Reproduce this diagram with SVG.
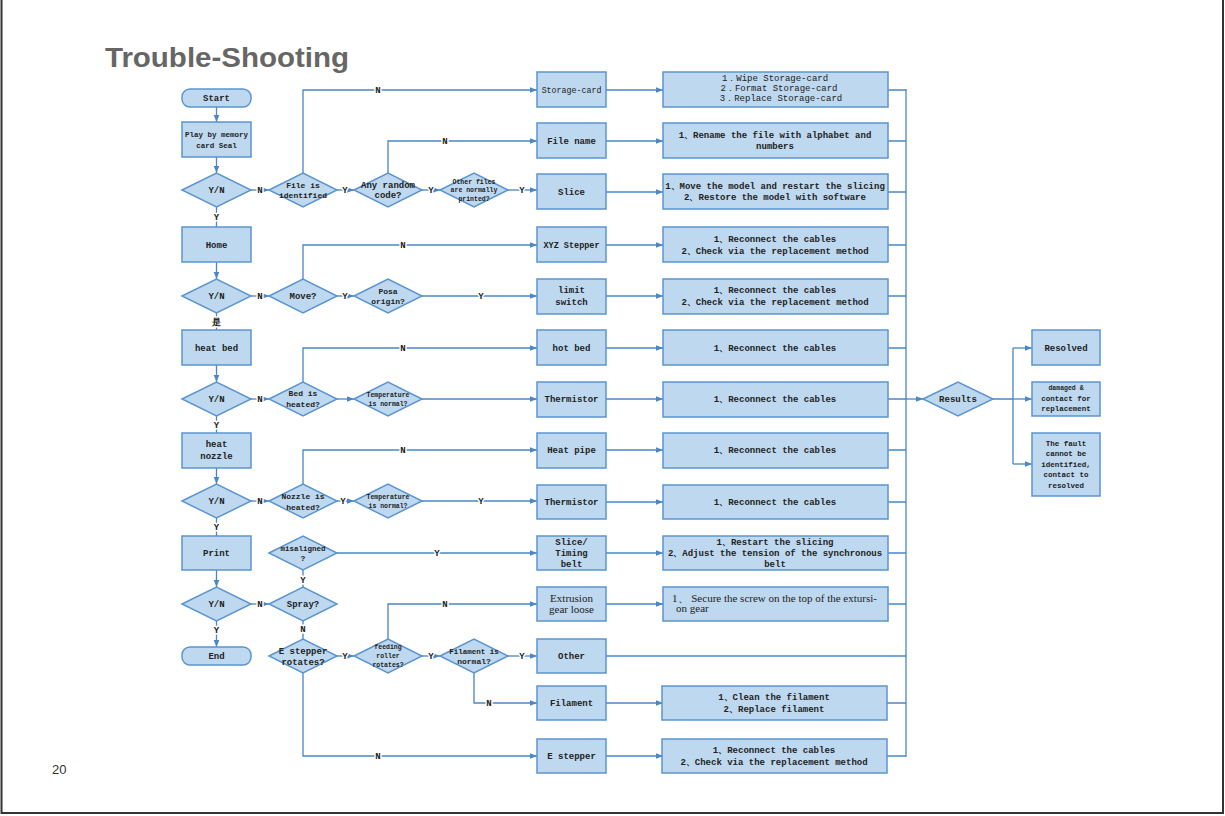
<svg xmlns="http://www.w3.org/2000/svg" width="1225" height="816" viewBox="0 0 1225 816">
<defs>
<marker id="ar" viewBox="0 0 10 10" refX="10" refY="5" markerWidth="7" markerHeight="7" markerUnits="userSpaceOnUse" orient="auto">
<path d="M0,1 L10,5 L0,9 Z" fill="#4a86c8"/>
</marker>
<style>
.box{fill:#bed8ef;stroke:#5b95d0;stroke-width:1.5}
.dm{fill:#bed8ef;stroke:#5b95d0;stroke-width:1.5}
.ln{fill:none;stroke:#4a86c8;stroke-width:1.3}
.ar{marker-end:url(#ar)}
.t{font-family:"Liberation Mono","DejaVu Sans Mono",monospace;font-size:9px;fill:#222;text-anchor:middle;font-weight:bold}
.s{font-size:8px}
.xs{font-size:6.5px}
.sf{font-family:"Liberation Serif","DejaVu Serif",serif;font-size:11px;font-weight:normal}
.st{text-anchor:start}
.lb{font-family:"Liberation Mono","DejaVu Sans Mono",monospace;font-size:9px;font-weight:bold;fill:#222;text-anchor:middle;stroke:#fff;stroke-width:3;paint-order:stroke}
</style>
</defs>
<rect x="0" y="0" width="1225" height="816" fill="#fff"/>
<g id="page" fill="none" stroke="#333" stroke-width="2">
<path d="M1.5,0 V813 H1223 V0"/>
</g>
<text x="105" y="67" font-family="Liberation Sans, Arial, sans-serif" font-size="28" font-weight="bold" fill="#666" textLength="244" lengthAdjust="spacingAndGlyphs">Trouble-Shooting</text>
<text x="52" y="774" font-family="Liberation Sans, Arial, sans-serif" font-size="13" fill="#333">20</text>

<g id="connectors">
<path class="ln ar" d="M216.5,107 V122"/>
<path class="ln ar" d="M216.5,157 V173"/>
<path class="ln" d="M216.5,207 V227"/>
<path class="ln ar" d="M216.5,262 V279"/>
<path class="ln" d="M216.5,313 V330"/>
<path class="ln ar" d="M216.5,365 V382"/>
<path class="ln" d="M216.5,416 V433"/>
<path class="ln ar" d="M216.5,468 V484"/>
<path class="ln" d="M216.5,518 V536"/>
<path class="ln ar" d="M216.5,570 V587"/>
<path class="ln ar" d="M216.5,621 V647"/>
<path class="ln ar" d="M251,190 H269"/>
<path class="ln ar" d="M251,296 H269"/>
<path class="ln ar" d="M251,399 H269"/>
<path class="ln ar" d="M251,501 H269"/>
<path class="ln ar" d="M251,604 H269"/>
<path class="ln ar" d="M303,173 V90 H537"/>
<path class="ln ar" d="M337,190 H354"/>
<path class="ln ar" d="M388,173 V141 H537"/>
<path class="ln ar" d="M422,190 H440"/>
<path class="ln ar" d="M508,190 H537"/>
<path class="ln ar" d="M303,279 V245 H537"/>
<path class="ln ar" d="M337,296 H354"/>
<path class="ln ar" d="M422,296 H537"/>
<path class="ln ar" d="M303,382 V348 H537"/>
<path class="ln ar" d="M337,399 H354"/>
<path class="ln ar" d="M422,399 H537"/>
<path class="ln ar" d="M303,484 V450 H537"/>
<path class="ln ar" d="M337,501 H354"/>
<path class="ln ar" d="M422,501 H537"/>
<path class="ln" d="M303,587 V570"/>
<path class="ln ar" d="M337,553 H537"/>
<path class="ln" d="M303,621 V639"/>
<path class="ln ar" d="M337,656 H354"/>
<path class="ln ar" d="M388,639 V604 H537"/>
<path class="ln ar" d="M422,656 H440"/>
<path class="ln ar" d="M508,656 H537"/>
<path class="ln ar" d="M474,673 V703 H537"/>
<path class="ln ar" d="M303,673 V756 H537"/>
<path class="ln ar" d="M606,90 H663"/>
<path class="ln ar" d="M606,141 H663"/>
<path class="ln ar" d="M606,192 H663"/>
<path class="ln ar" d="M606,245 H663"/>
<path class="ln ar" d="M606,296 H663"/>
<path class="ln ar" d="M606,348 H663"/>
<path class="ln ar" d="M606,399 H663"/>
<path class="ln ar" d="M606,450 H663"/>
<path class="ln ar" d="M606,502 H663"/>
<path class="ln ar" d="M606,553 H663"/>
<path class="ln ar" d="M606,604 H663"/>
<path class="ln ar" d="M606,703 H663"/>
<path class="ln ar" d="M606,756 H663"/>
<path class="ln" d="M606,656 H906"/>
<path class="ln" d="M888,90 H906 M888,141 H906 M888,192 H906 M888,245 H906 M888,296 H906 M888,348 H906 M888,399 H906 M888,450 H906 M888,502 H906 M888,553 H906 M888,604 H906 M887,703 H906 M887,756 H906"/>
<path class="ln" d="M906,89 V757"/>
<path class="ln ar" d="M906,399 H923"/>
<path class="ln" d="M993,399 H1013 M1013,348 V464"/>
<path class="ln ar" d="M1013,348 H1032"/>
<path class="ln ar" d="M1013,399 H1032"/>
<path class="ln ar" d="M1013,464 H1032"/>
<text class="lb" x="216.5" y="220">Y</text>
<text class="lb" x="216.5" y="325" font-family="Noto Sans CJK SC, sans-serif">是</text>
<text class="lb" x="216.5" y="428">Y</text>
<text class="lb" x="216.5" y="530">Y</text>
<text class="lb" x="216.5" y="633">Y</text>
<text class="lb" x="260" y="193">N</text>
<text class="lb" x="260" y="299">N</text>
<text class="lb" x="260" y="402">N</text>
<text class="lb" x="260" y="504">N</text>
<text class="lb" x="260" y="607">N</text>
<text class="lb" x="378" y="93">N</text>
<text class="lb" x="345" y="193">Y</text>
<text class="lb" x="445" y="144">N</text>
<text class="lb" x="431" y="193">Y</text>
<text class="lb" x="522" y="193">Y</text>
<text class="lb" x="403" y="248">N</text>
<text class="lb" x="345" y="299">Y</text>
<text class="lb" x="481" y="299">Y</text>
<text class="lb" x="403" y="351">N</text>
<text class="lb" x="403" y="453">N</text>
<text class="lb" x="343" y="504">Y</text>
<text class="lb" x="481" y="504">Y</text>
<text class="lb" x="437" y="556">Y</text>
<text class="lb" x="303" y="583">Y</text>
<text class="lb" x="303" y="632">N</text>
<text class="lb" x="345" y="659">Y</text>
<text class="lb" x="445" y="607">N</text>
<text class="lb" x="431" y="659">Y</text>
<text class="lb" x="522" y="659">Y</text>
<text class="lb" x="489" y="706">N</text>
<text class="lb" x="378" y="759">N</text>
</g>

<g id="start"><rect class="box" x="182" y="89" width="69" height="18" rx="8"/><text class="t" x="216.5" y="101">Start</text></g>
<g id="play"><rect class="box" x="182" y="122" width="69" height="35"/><text class="t s" x="216.5" y="137" style="font-size:7.5px">Play by memory</text><text class="t s" x="216.5" y="148" style="font-size:7.5px">card Seal</text></g>
<g id="yn1"><polygon class="dm" points="182,190 216.5,173 251,190 216.5,207"/><text class="t" x="216.5" y="193">Y/N</text></g>
<g id="home"><rect class="box" x="182" y="227" width="69" height="35"/><text class="t" x="216.5" y="248">Home</text></g>
<g id="yn2"><polygon class="dm" points="182,296 216.5,279 251,296 216.5,313"/><text class="t" x="216.5" y="299">Y/N</text></g>
<g id="heatbed"><rect class="box" x="182" y="330" width="69" height="35"/><text class="t" x="216.5" y="351">heat bed</text></g>
<g id="yn3"><polygon class="dm" points="182,399 216.5,382 251,399 216.5,416"/><text class="t" x="216.5" y="402">Y/N</text></g>
<g id="heatnozzle"><rect class="box" x="182" y="433" width="69" height="35"/><text class="t" x="216.5" y="447">heat</text><text class="t" x="216.5" y="459">nozzle</text></g>
<g id="yn4"><polygon class="dm" points="182,501 216.5,484 251,501 216.5,518"/><text class="t" x="216.5" y="504">Y/N</text></g>
<g id="print"><rect class="box" x="182" y="536" width="69" height="34"/><text class="t" x="216.5" y="556">Print</text></g>
<g id="yn5"><polygon class="dm" points="182,604 216.5,587 251,604 216.5,621"/><text class="t" x="216.5" y="607">Y/N</text></g>
<g id="end"><rect class="box" x="182" y="647" width="69" height="18" rx="8"/><text class="t" x="216.5" y="659">End</text></g>

<g id="fileid"><polygon class="dm" points="269,190 303,173 337,190 303,207"/><text class="t s" x="303" y="188">File is</text><text class="t s" x="303" y="198">identified</text></g>
<g id="random"><polygon class="dm" points="354,190 388,173 422,190 388,207"/><text class="t" x="388" y="188">Any random</text><text class="t" x="388" y="198">code?</text></g>
<g id="otherfiles"><polygon class="dm" points="440,190 474,173 508,190 474,207"/><text class="t xs" x="474" y="184">Other files</text><text class="t xs" x="474" y="192">are normally</text><text class="t xs" x="474" y="201">printed?</text></g>
<g id="move"><polygon class="dm" points="269,296 303,279 337,296 303,313"/><text class="t" x="303" y="299">Move?</text></g>
<g id="posa"><polygon class="dm" points="354,296 388,279 422,296 388,313"/><text class="t s" x="388" y="294">Posa</text><text class="t s" x="388" y="304">origin?</text></g>
<g id="bedheated"><polygon class="dm" points="269,399 303,382 337,399 303,416"/><text class="t s" x="303" y="396">Bed is</text><text class="t s" x="303" y="407">heated?</text></g>
<g id="temp1"><polygon class="dm" points="354,399 388,382 422,399 388,416"/><text class="t xs" x="388" y="397">Temperature</text><text class="t xs" x="388" y="406">is normal?</text></g>
<g id="nozzleheated"><polygon class="dm" points="269,501 303,484 337,501 303,518"/><text class="t s" x="303" y="499">Nozzle is</text><text class="t s" x="303" y="510">heated?</text></g>
<g id="temp2"><polygon class="dm" points="354,501 388,484 422,501 388,518"/><text class="t xs" x="388" y="499">Temperature</text><text class="t xs" x="388" y="508">is normal?</text></g>
<g id="misaligned"><polygon class="dm" points="269,553 303,536 337,553 303,570"/><text class="t s" x="303" y="551" style="font-size:7.5px">misaligned</text><text class="t s" x="303" y="561">?</text></g>
<g id="spray"><polygon class="dm" points="269,604 303,587 337,604 303,621"/><text class="t" x="303" y="607">Spray?</text></g>
<g id="estep"><polygon class="dm" points="269,656 303,639 337,656 303,673"/><text class="t" x="303" y="654">E stepper</text><text class="t" x="303" y="665">rotates?</text></g>
<g id="feeding"><polygon class="dm" points="354,656 388,639 422,656 388,673"/><text class="t xs" x="388" y="649">feeding</text><text class="t xs" x="388" y="658">roller</text><text class="t xs" x="388" y="667">rotates?</text></g>
<g id="filnormal"><polygon class="dm" points="440,656 474,639 508,656 474,673"/><text class="t s" x="474" y="654" style="font-size:7.5px">Filament is</text><text class="t s" x="474" y="664">normal?</text></g>

<g id="c_storage"><rect class="box" x="537" y="72" width="69" height="35"/><text class="t" x="571.5" y="93" style="font-size:8.3px;font-weight:normal">Storage-card</text></g>
<g id="c_filename"><rect class="box" x="537" y="123" width="69" height="35"/><text class="t" x="571.5" y="144">File name</text></g>
<g id="c_slice"><rect class="box" x="537" y="174" width="69" height="35"/><text class="t" x="571.5" y="195">Slice</text></g>
<g id="c_xyz"><rect class="box" x="537" y="227" width="69" height="35"/><text class="t" x="571.5" y="248" style="font-size:8.5px">XYZ Stepper</text></g>
<g id="c_limit"><rect class="box" x="537" y="279" width="69" height="35"/><text class="t" x="571.5" y="293">limit</text><text class="t" x="571.5" y="305">switch</text></g>
<g id="c_hotbed"><rect class="box" x="537" y="330" width="69" height="35"/><text class="t" x="571.5" y="351">hot bed</text></g>
<g id="c_therm1"><rect class="box" x="537" y="382" width="69" height="35"/><text class="t" x="571.5" y="402">Thermistor</text></g>
<g id="c_heatpipe"><rect class="box" x="537" y="433" width="69" height="35"/><text class="t" x="571.5" y="453">Heat pipe</text></g>
<g id="c_therm2"><rect class="box" x="537" y="485" width="69" height="34"/><text class="t" x="571.5" y="505">Thermistor</text></g>
<g id="c_slicebelt"><rect class="box" x="537" y="536" width="69" height="34"/><text class="t" x="571.5" y="545">Slice/</text><text class="t" x="571.5" y="556">Timing</text><text class="t" x="571.5" y="567">belt</text></g>
<g id="c_extrusion"><rect class="box" x="537" y="587" width="69" height="34"/><text class="t sf" x="571.5" y="602">Extrusion</text><text class="t sf" x="571.5" y="613">gear loose</text></g>
<g id="c_other"><rect class="box" x="537" y="639" width="69" height="34"/><text class="t" x="571.5" y="659">Other</text></g>
<g id="c_filament"><rect class="box" x="537" y="686" width="69" height="34"/><text class="t" x="571.5" y="706">Filament</text></g>
<g id="c_estepper"><rect class="box" x="537" y="739" width="69" height="34"/><text class="t" x="571.5" y="759">E stepper</text></g>

<g id="s_storage"><rect class="box" x="663" y="72" width="225" height="35"/><text class="t" x="775" y="81" style="font-weight:normal">1．Wipe Storage-card</text><text class="t" x="779" y="91" style="font-weight:normal">2．Format Storage-card</text><text class="t" x="781" y="101" style="font-weight:normal">3．Replace Storage-card</text></g>
<g id="s_filename"><rect class="box" x="663" y="123" width="225" height="35"/><text class="t" x="775" y="138">1、Rename the file with alphabet and</text><text class="t" x="775" y="149">numbers</text></g>
<g id="s_slice"><rect class="box" x="663" y="174" width="225" height="35"/><text class="t" x="775" y="189">1、Move the model and restart the slicing</text><text class="t" x="775" y="200">2、Restore the model with software</text></g>
<g id="s_xyz"><rect class="box" x="663" y="227" width="225" height="35"/><text class="t" x="775" y="242">1、Reconnect the cables</text><text class="t" x="775" y="254">2、Check via the replacement method</text></g>
<g id="s_limit"><rect class="box" x="663" y="279" width="225" height="35"/><text class="t" x="775" y="293">1、Reconnect the cables</text><text class="t" x="775" y="305">2、Check via the replacement method</text></g>
<g id="s_hotbed"><rect class="box" x="663" y="330" width="225" height="35"/><text class="t" x="775" y="351">1、Reconnect the cables</text></g>
<g id="s_therm1"><rect class="box" x="663" y="382" width="225" height="35"/><text class="t" x="775" y="402">1、Reconnect the cables</text></g>
<g id="s_heatpipe"><rect class="box" x="663" y="433" width="225" height="35"/><text class="t" x="775" y="453">1、Reconnect the cables</text></g>
<g id="s_therm2"><rect class="box" x="663" y="485" width="225" height="34"/><text class="t" x="775" y="505">1、Reconnect the cables</text></g>
<g id="s_slicebelt"><rect class="box" x="663" y="536" width="225" height="34"/><text class="t" x="775" y="545">1、Restart the slicing</text><text class="t" x="775" y="556">2、Adjust the tension of the synchronous</text><text class="t" x="775" y="567">belt</text></g>
<g id="s_extrusion"><rect class="box" x="663" y="587" width="225" height="34"/><text class="t sf st" x="672" y="602">1、 Secure the screw on the top of the extursi-</text><text class="t sf st" x="676" y="612">on gear</text></g>
<g id="s_filament"><rect class="box" x="662" y="686" width="225" height="34"/><text class="t" x="774" y="700">1、Clean the filament</text><text class="t" x="774" y="712">2、Replace filament</text></g>
<g id="s_estepper"><rect class="box" x="662" y="739" width="225" height="34"/><text class="t" x="774" y="753">1、Reconnect the cables</text><text class="t" x="774" y="765">2、Check via the replacement method</text></g>

<g id="results"><polygon class="dm" points="923,399 958,382 993,399 958,416"/><text class="t" x="958" y="402">Results</text></g>
<g id="resolved"><rect class="box" x="1032" y="330" width="68" height="35"/><text class="t" x="1066" y="351">Resolved</text></g>
<g id="damaged"><rect class="box" x="1032" y="382" width="68" height="34"/><text class="t xs" x="1066" y="390">damaged &amp;</text><text class="t s" x="1066" y="401" style="font-size:7.5px">contact for</text><text class="t s" x="1066" y="411" style="font-size:7.5px">replacement</text></g>
<g id="fault"><rect class="box" x="1032" y="433" width="68" height="63"/><text class="t s" x="1066" y="446" style="font-size:7.5px">The fault</text><text class="t s" x="1066" y="456" style="font-size:7.5px">cannot be</text><text class="t s" x="1066" y="467" style="font-size:7.5px">identified,</text><text class="t s" x="1066" y="477" style="font-size:7.5px">contact to</text><text class="t s" x="1066" y="488" style="font-size:7.5px">resolved</text></g>
</svg>
